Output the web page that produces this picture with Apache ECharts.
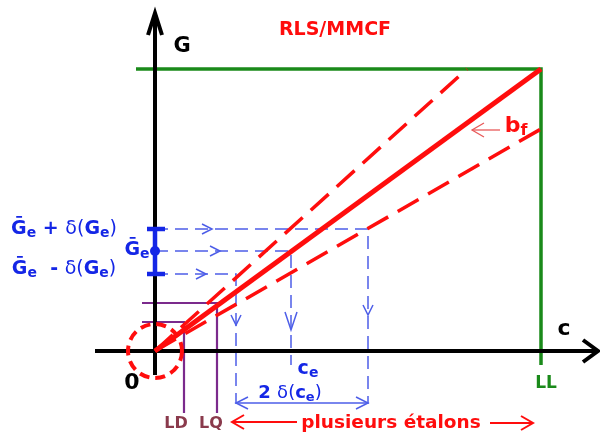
<!DOCTYPE html>
<html><head><meta charset="utf-8">
<script src="https://cdn.jsdelivr.net/npm/echarts@6/dist/echarts.min.js"></script>
<style>html,body{margin:0;padding:0;background:#fff}#c{width:600px;height:436px}</style>
</head><body><div id="c"></div>
<script>
// ---- schematic values (chart units, origin at 0,0) ----
const xRange = [-155, 445];
const yRange = [-85, 351];
const limitLL = 386;              // LL on the c axis
const limitG = 282;               // G reached at LL
const upperBandEnd = [312, 282];  // upper dashed confidence line end
const lowerBandEnd = [386, 222];  // lower dashed confidence line end
const GeLevels = [122, 100, 77];  // Ge+δ, Ge, Ge-δ
const ceValues = [213, 136, 81];  // c read at each level
const LDpoint = [29, 29];
const LQpoint = [62, 48];

const FONT = 'DejaVu Sans';
const RED = '#ff0d0d', BLUE = '#1426e6', BLUEL = '#4d5ee8', GREEN = '#1a8a1a', PURPLE = '#7b2a8c', BROWN = '#8a3a4c';

function seg(pts, color, width, type, z) {
  return {type: 'line', data: pts, symbol: 'none', silent: true, animation: false, z: z || 2,
    lineStyle: {color: color, width: width, type: type || 'solid', cap: 'butt', join: 'miter'}};
}
function chev(tip, dir, len, half) {
  const bx = tip[0] - dir[0] * len, by = tip[1] - dir[1] * len;
  const px = -dir[1] * half, py = dir[0] * half;
  return [[bx + px, by + py], tip, [bx - px, by - py]];
}

const series = [];
// green limits
series.push(seg([[-19, limitG], [limitLL, limitG], [limitLL, -14]], GREEN, 3.5, 'solid', 3));
// axes
series.push(seg([[-60, 0], [443, 0]], '#000', 4, 'solid', 4));
series.push(seg(chev([443, 0], [1, 0], 15, 11), '#000', 4, 'solid', 4));
series.push(seg([[0, -24], [0, 338]], '#000', 4, 'solid', 4));
series.push(seg(chev([0, 338], [0, 1], 22, 7), '#000', 4, 'solid', 4));
// purple LD / LQ
series.push(seg([[-13, LDpoint[1]], [LDpoint[0], LDpoint[1]], [LDpoint[0], -62]], PURPLE, 2.2, 'solid', 3));
series.push(seg([[-13, LQpoint[1]], [LQpoint[0], LQpoint[1]], [LQpoint[0], -62]], PURPLE, 2.2, 'solid', 3));
// blue dashed projections
const arrowX = [57, 65, 51];
const vArrowY = [36, 21, 26];
const downEnds = [-53, -14, -53];
for (let i = 0; i < 3; i++) {
  series.push(seg([[0, GeLevels[i]], [ceValues[i], GeLevels[i]], [ceValues[i], downEnds[i]]], BLUEL, 1.5, [13, 7], 5));
  series.push(seg(chev([arrowX[i], GeLevels[i]], [1, 0], 10, 5), BLUEL, 1.5, 'solid', 5));
  const big = i === 1;
  series.push(seg(chev([ceValues[i], vArrowY[i]], [0, -1], big ? 18 : 10, big ? 6 : 5), BLUEL, 1.5, 'solid', 5));
}
// 2δ(ce) double arrow
series.push(seg([[ceValues[2], -52], [ceValues[0], -52]], BLUEL, 1.5, 'solid', 5));
series.push(seg(chev([ceValues[2], -52], [-1, 0], 12, 6), BLUEL, 1.5, 'solid', 5));
series.push(seg(chev([ceValues[0], -52], [1, 0], 12, 6), BLUEL, 1.5, 'solid', 5));
// blue Ge interval on G axis
series.push(seg([[0, GeLevels[2]], [0, GeLevels[0]]], BLUE, 4.5, 'solid', 6));
series.push(seg([[-8, GeLevels[0]], [10, GeLevels[0]]], BLUE, 4.5, 'solid', 6));
series.push(seg([[-8, GeLevels[2]], [10, GeLevels[2]]], BLUE, 4.5, 'solid', 6));
series.push({type: 'scatter', data: [[0, GeLevels[1]]], symbolSize: 10, itemStyle: {color: BLUE, opacity: 1}, silent: true, animation: false, z: 7});
// red calibration lines
series.push(seg([[0, 0], [limitLL, limitG]], RED, 5, 'solid', 8));
series.push(seg([[0, 0], upperBandEnd], RED, 3.5, [24, 11], 8));
series.push(seg([[0, 0], lowerBandEnd], RED, 3.5, [24, 11], 8));
// b_f arrow
series.push(seg([[345, 221], [317, 221]], '#e85a5a', 1.3, 'solid', 8));
series.push(seg(chev([317, 221], [-1, 0], 12, 7), '#e85a5a', 1.3, 'solid', 8));
// bottom red arrows
series.push(seg([[142, -71], [77, -71]], RED, 2, 'solid', 8));
series.push(seg(chev([77, -71], [-1, 0], 12, 7), RED, 2, 'solid', 8));
series.push(seg([[335, -72], [378, -72]], RED, 2, 'solid', 8));
series.push(seg(chev([378, -72], [1, 0], 12, 7), RED, 2, 'solid', 8));
// dashed circle at origin
series.push({type: 'scatter', data: [[0, 0]], symbolSize: 54, silent: true, animation: false, z: 9,
  itemStyle: {color: 'rgba(0,0,0,0)', borderColor: RED, borderWidth: 4, borderType: [10, 6], opacity: 1}});

// ---- text labels ----
function richSet(color, size) {
  return {
    g: {fontFamily: FONT, fontWeight: 'bold', fontSize: size, color: color, lineHeight: size + 4},
    n: {fontFamily: FONT, fontWeight: 'normal', fontSize: size, color: color, lineHeight: size + 4},
    s: {fontFamily: FONT, fontWeight: 'bold', fontSize: Math.round(size * 0.74), color: color, lineHeight: Math.round(size * 0.6), verticalAlign: 'bottom'}
  };
}
function lab(x, y, text, color, size, rich, weight) {
  const l = {show: true, position: 'inside', formatter: text, color: color, fontFamily: FONT,
    fontWeight: weight || 'bold', fontSize: size, align: 'center', verticalAlign: 'middle',
    textBorderWidth: 0};
  if (rich) l.rich = richSet(color, size);
  return {value: [x, y], label: l};
}
const labels = [
  lab(180, 321, 'RLS/MMCF', RED, 19),
  lab(27, 304, 'G', '#000', 21),
  lab(409, 22, 'c', '#000', 22),
  lab(-23, -32, '0', '#000', 22),
  lab(391, -33, 'LL', GREEN, 17),
  lab(-91, 122, '{g|Ḡ}{s|e}{g| + }{n|δ(}{g|G}{s|e}{n|)}', BLUE, 19, true),
  lab(-91, 82, '{g|Ḡ}{s|e}{g|  - }{n|δ(}{g|G}{s|e}{n|)}', BLUE, 19, true),
  lab(-18, 101, '{g|Ḡ}{s|e}', BLUE, 19, true),
  lab(153, -18, '{g|c}{s|e}', BLUE, 19, true),
  lab(135, -42, '{g|2 }{n|δ(}{g|c}{s|e}{n|)}', BLUE, 18, true),
  lab(361, 225, '{g|b}{s|f}', RED, 22, true),
  lab(21, -73, 'LD', BROWN, 16),
  lab(56, -73, 'LQ', BROWN, 16),
  lab(236, -72, 'plusieurs étalons', RED, 18.5)
];
series.push({type: 'scatter', data: labels, symbolSize: 0, itemStyle: {opacity: 1}, silent: true, animation: false, z: 20});

const chart = echarts.init(document.getElementById('c'), null, {renderer: 'canvas'});
chart.setOption({
  animation: false,
  backgroundColor: '#fff',
  grid: {left: 0, right: 0, top: 0, bottom: 0},
  xAxis: {type: 'value', min: xRange[0], max: xRange[1], show: false},
  yAxis: {type: 'value', min: yRange[0], max: yRange[1], show: false},
  series: series
});
</script></body></html>
